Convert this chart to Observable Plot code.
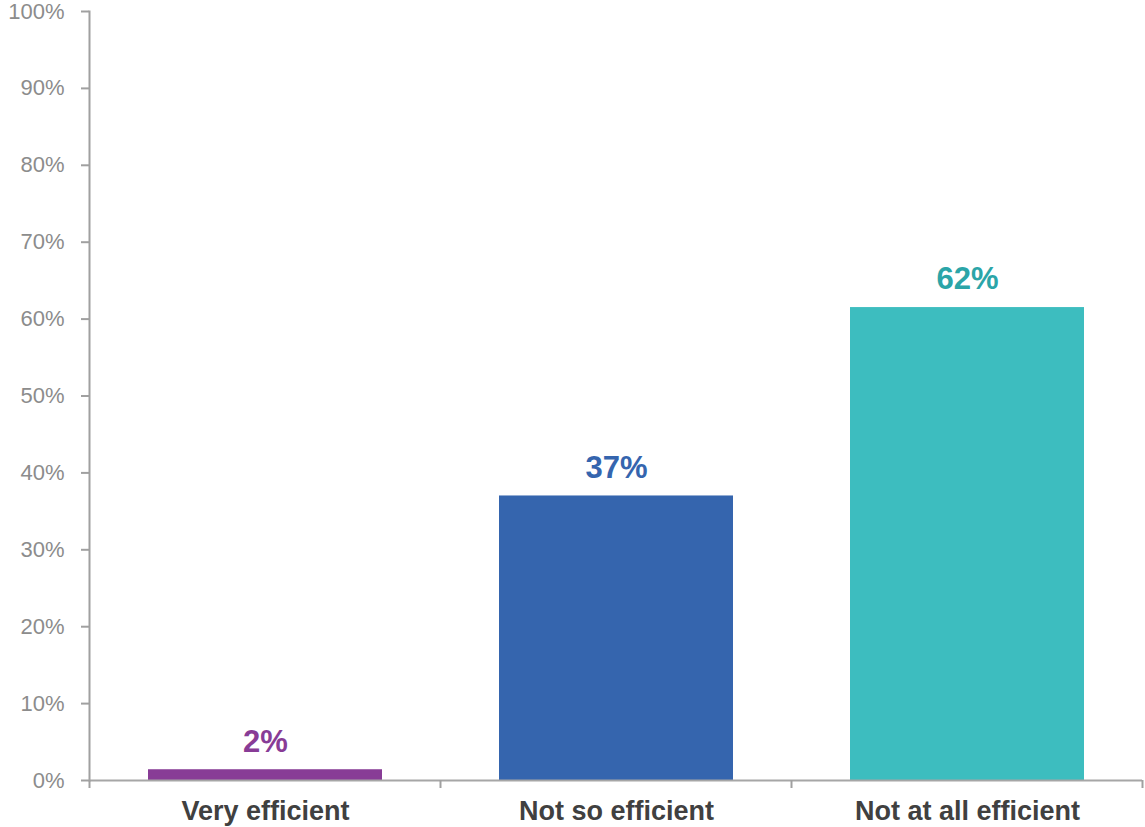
<!DOCTYPE html>
<html>
<head>
<meta charset="utf-8">
<script src="https://cdn.jsdelivr.net/npm/d3@7"></script>
<script src="https://cdn.jsdelivr.net/npm/@observablehq/plot@0.6"></script>
<style>
  body { margin: 0; background: #fff; }
  svg { display: block; }
</style>
</head>
<body>
<div id="chart"></div>
<script>
const categories = ["Very efficient", "Not so efficient", "Not at all efficient"];
const values = [1.4, 37, 61.5];
const labels = ["2%", "37%", "62%"];
const barColors = ["#883C96", "#3565AE", "#3DBDBF"];
const labelColors = ["#883C96", "#3565AE", "#2BA5A8"];
const yTicks = [0, 10, 20, 30, 40, 50, 60, 70, 80, 90, 100];

const data = categories.map((c, i) => ({category: c, value: values[i], label: labels[i], bar: barColors[i], lab: labelColors[i]}));

const W = 1145, H = 827;
const mL = 89, mR = 3, mT = 11, mB = 47;

const chart = Plot.plot({
  width: W,
  height: H,
  marginLeft: mL,
  marginRight: mR,
  marginTop: mT,
  marginBottom: mB,
  style: {fontFamily: "Liberation Sans, Arial, sans-serif", background: "#fff"},
  x: {domain: categories, paddingInner: 1/3, paddingOuter: 1/6, label: null},
  y: {domain: [0, 100], label: null},
  marks: [
    Plot.barY(data, {x: "category", y: "value", fill: d => d.bar}),
    Plot.text(data, {x: "category", y: "value", text: "label", fill: d => d.lab, dy: -28, fontSize: 31, fontWeight: "bold", textAnchor: "middle"}),
    Plot.frame({anchor: "left", stroke: "#a0a0a0", strokeWidth: 2}),
    Plot.axisY({ticks: yTicks, tickFormat: d => d + "%", tickSize: 8, tickPadding: 17, stroke: "#a0a0a0", strokeWidth: 2, fill: "#8c8c8c", fontSize: 22, label: null}),
    Plot.ruleY([0], {stroke: "#a6a6a6", strokeWidth: 2}),
    Plot.axisX({tickSize: 0, tickPadding: 20, fill: "#404040", fontSize: 27, fontWeight: "bold", label: null})
  ]
});

// category boundary tick marks below the baseline, placed with the chart's scales
const xs = chart.scale("x");
const ys = chart.scale("y");
const svg = d3.select(chart);
const y0 = ys.apply(0);
const gap = (xs.step - xs.bandwidth) / 2;
const bounds = categories.map(c => xs.apply(c) - gap);
bounds.push(xs.apply(categories[categories.length - 1]) + xs.bandwidth + gap);
svg.append("g").selectAll("line").data(bounds).join("line")
  .attr("x1", d => d).attr("x2", d => d)
  .attr("y1", y0).attr("y2", y0 + 8)
  .attr("stroke", "#a0a0a0").attr("stroke-width", 2);

document.getElementById("chart").appendChild(chart);
</script>
</body>
</html>
